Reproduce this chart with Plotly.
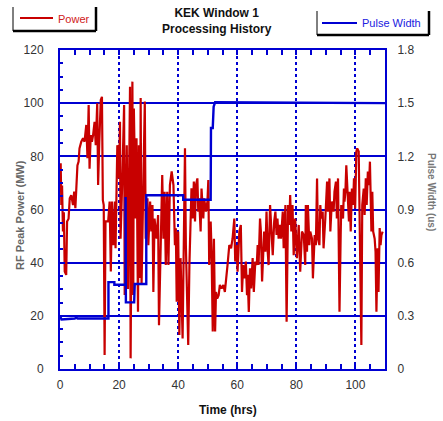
import plotly.graph_objects as go

# ---- data ----
power_time = [0.0, 0.23, 0.45, 0.7, 1.0, 1.3, 1.6, 2.1, 2.4, 2.9, 3.3, 3.8, 4.4, 4.8, 5.2, 5.6, 5.9, 6.3, 6.6, 7.2,
              7.8, 8.3, 8.9, 9.3, 9.7, 10.0, 10.4, 10.8, 11.2, 11.7, 12.1, 12.6, 12.9, 13.3, 13.8, 14.2, 14.5, 14.8, 15.1, 15.4,
              15.9, 16.3, 16.8, 17.2, 17.6, 18.1, 18.6, 18.8, 19.4, 19.96, 20.3, 20.5, 21.1, 21.7, 21.9, 22.6,
              23.0, 23.4, 23.7, 23.9, 24.5, 24.8, 25.0, 25.6, 25.9, 26.4, 26.7, 27.1, 27.3, 27.6, 28.2, 28.7,
              29.0, 29.6, 29.9, 30.5, 30.9, 31.3, 31.6, 32.0, 32.7, 33.2, 33.5, 34.1, 34.6, 35.0, 35.4, 35.8,
              36.3, 36.7, 37.2, 37.8, 38.4, 38.9, 39.2, 39.5, 40.0, 40.4, 40.8, 41.5, 42.0, 42.3, 42.6, 43.1,
              43.4, 43.8, 44.2, 44.5, 44.9, 45.3, 45.7, 46.0, 46.5, 46.8, 47.1, 47.6, 47.9, 48.5, 48.8, 49.4,
              49.9, 50.2, 50.5, 51.0, 51.3, 51.7, 52.1, 52.5, 52.8, 53.2, 53.7, 54.1, 54.7, 55.3, 55.8, 56.4,
              56.7, 57.3, 57.9, 58.4, 59.0, 59.3, 59.8, 60.1, 60.7, 61.2, 61.6, 62.0, 62.4, 62.9, 63.3, 63.5,
              63.9, 64.3, 64.7, 65.2, 65.6, 66.1, 66.6, 66.9, 67.2, 67.7, 68.0, 68.4, 68.8, 69.1, 69.5, 69.9,
              70.3, 70.6, 71.1, 71.4, 72.0, 72.5, 72.9, 73.3, 73.6, 74.0, 74.4, 74.8, 75.4, 75.7, 76.3, 76.7,
              77.2, 77.6, 77.9, 78.3, 78.7, 79.1, 79.6, 80.2, 80.8, 81.3, 81.9, 82.5, 83.0, 83.2, 83.6, 83.9,
              84.4, 84.7, 85.3, 85.6, 86.2, 86.6, 87.0, 87.3, 87.8, 88.1, 88.4, 88.9, 89.2, 89.8, 90.4, 90.7,
              91.2, 91.5, 92.0, 92.6, 92.9, 93.4, 93.7, 94.1, 94.6, 95.0, 95.2, 95.8, 96.1, 96.3, 96.6, 96.9,
              97.5, 97.8, 98.0, 98.4, 98.8, 99.2, 99.5, 99.9, 100.3, 100.6, 101.1, 101.4, 101.8, 102.0, 102.3, 102.8,
              103.1, 103.5, 103.8, 104.2, 104.6, 104.9, 105.4, 105.7, 106.0, 106.5, 106.8, 107.1, 107.5, 107.8,
              108.2, 108.5, 108.8, 109.2]
power_mw = [70.5, 77.4, 61.7, 69.0, 51.7, 59.0, 36.7, 35.4, 55.5, 56.5, 64.2, 65.4, 61.7, 66.7, 60.5, 70.5, 76.6, 78.0, 83.0, 85.5,
            86.8, 85.5, 91.8, 79.3, 99.3, 75.3, 88.0, 85.5, 88.0, 93.0, 84.2, 100.0, 69.2, 85.5, 101.2, 102.4, 63.5, 61.7, 5.3, 55.5,
            55.5, 55.5, 63.0, 36.7, 63.0, 46.6, 63.0, 45.4, 84.2, 71.7, 93.0, 49.0, 71.7, 99.3, 27.8, 84.2,
            30.1, 86.8, 106.2, 4.0, 108.1, 27.8, 98.0, 56.6, 86.8, 21.5, 84.2, 34.2, 101.9, 31.6, 71.7, 100.6,
            49.0, 64.2, 46.6, 63.0, 51.7, 61.7, 29.0, 56.6, 49.0, 57.9, 16.5, 51.7, 73.0, 49.0, 66.7, 39.1,
            66.7, 39.1, 69.2, 74.3, 69.2, 46.6, 52.9, 25.3, 51.7, 12.8, 41.7, 11.5, 64.2, 83.0, 46.6, 15.4,
            9.0, 39.1, 59.2, 68.0, 56.6, 70.5, 55.5, 69.2, 71.7, 59.2, 64.2, 51.7, 67.9, 56.6, 64.2, 59.2,
            63.0, 71.1, 39.1, 55.5, 44.1, 14.1, 49.0, 14.1, 29.0, 26.5, 27.8, 31.6, 30.3, 31.6, 29.0, 37.9,
            39.1, 46.6, 45.4, 49.0, 56.6, 40.4, 46.6, 36.6, 51.7, 54.2, 29.0, 39.1, 34.1, 40.4, 27.8, 35.4,
            21.5, 37.9, 30.3, 41.7, 29.0, 40.4, 39.1, 46.6, 39.1, 56.6, 51.7, 32.9, 46.6, 51.7, 44.1, 59.2,
            44.1, 39.1, 61.7, 55.5, 42.8, 55.5, 59.2, 50.4, 56.6, 49.0, 54.2, 49.0, 59.2, 45.4, 61.7, 17.8,
            61.7, 54.2, 65.4, 51.7, 61.7, 42.8, 56.6, 41.7, 54.2, 36.6, 51.7, 50.4, 39.1, 61.7, 44.1, 61.7,
            46.6, 51.7, 49.0, 34.1, 50.4, 46.6, 71.7, 49.0, 46.6, 61.7, 56.6, 59.2, 45.4, 56.6, 70.5, 59.2,
            71.7, 51.7, 63.0, 59.2, 66.7, 70.5, 56.6, 71.7, 21.5, 50.4, 61.7, 56.6, 67.9, 63.0, 66.7, 76.6,
            64.2, 55.5, 66.7, 51.7, 67.9, 61.7, 71.7, 60.4, 81.8, 83.0, 81.8, 59.2, 19.2, 9.0, 61.7, 67.9,
            57.9, 71.7, 61.7, 74.3, 69.2, 78.0, 51.7, 66.7, 51.7, 49.0, 44.1, 21.5, 45.4, 29.0,
            53.0, 46.6, 50.4, 51.7]

pulse_time = [0.0, 0.5, 5.0, 5.5, 6.0, 16.4, 16.4, 18.4, 18.4, 22.2, 22.2, 22.3, 25.1, 25.3, 29.2, 29.2,
              41.7, 41.7, 51.0, 51.1, 51.7, 52.0, 52.5, 110.0]
pulse_us = [0.30, 0.28, 0.285, 0.29, 0.285, 0.285, 0.49, 0.49, 0.475, 0.475, 0.97, 0.376, 0.376, 0.48, 0.48, 0.98,
            0.98, 0.955, 0.955, 1.36, 1.36, 1.48, 1.505, 1.50]

x_ticks = [0, 20, 40, 60, 80, 100]
y_ticks = [0, 20, 40, 60, 80, 100, 120]
y2_ticks = [0, 0.3, 0.6, 0.9, 1.2, 1.5, 1.8]
y2_labels = ["0", "0.3", "0.6", "0.9", "1.2", "1.5", "1.8"]

RED = "#c80000"
BLUE = "#0000d2"
FONT = "Liberation Sans, Arial, sans-serif"

fig = go.Figure()
fig.add_trace(go.Scatter(x=power_time, y=power_mw, mode="lines", name="Power",
                         line=dict(color=RED, width=2.2), yaxis="y", showlegend=False))
fig.add_trace(go.Scatter(x=pulse_time, y=pulse_us, mode="lines", name="Pulse Width",
                         line=dict(color=BLUE, width=2.4), yaxis="y2", showlegend=False))

W, H = 443, 421
L, R, T, B = 60, 58, 50, 52
pw, ph = W - L - R, H - T - B


def px_x(px):
    return (px - L) / pw


def px_y(py):
    return (H - B - py) / ph


axis_common = dict(showline=True, linecolor=BLUE, linewidth=2, ticks="inside", tickcolor=BLUE,
                   tickwidth=2, ticklen=5, zeroline=False,
                   tickfont=dict(family=FONT, size=12, color="#333333"))

fig.update_layout(
    width=W, height=H,
    margin=dict(l=L, r=R, t=T, b=B),
    paper_bgcolor="white", plot_bgcolor="white",
    xaxis=dict(range=[0, 110], tickvals=x_ticks, showgrid=True, gridcolor=BLUE, gridwidth=2,
               griddash="dot", mirror="allticks",
               minor=dict(dtick=5, ticks="inside", ticklen=3, tickcolor=BLUE, tickwidth=2, showgrid=False),
               ticklabelstandoff=4, **axis_common),
    yaxis=dict(range=[0, 120], tickvals=y_ticks, showgrid=True, gridcolor=BLUE, gridwidth=2,
               minor=dict(dtick=5, ticks="inside", ticklen=3, tickcolor=BLUE, tickwidth=2, showgrid=False),
               ticklabelstandoff=12, **axis_common),
    yaxis2=dict(range=[0, 1.8], tickvals=y2_ticks, ticktext=y2_labels, overlaying="y", side="right",
                showgrid=False, ticklabelstandoff=8, **axis_common),
    font=dict(family=FONT),
)

# titles
fig.add_annotation(x=(217 - L) / pw, y=px_y(21), xref="paper", yref="paper",
                   text="<b>KEK Window 1<br>Processing History</b>", showarrow=False,
                   font=dict(family=FONT, size=12, color="#111111"), xanchor="center", yanchor="middle")
fig.add_annotation(x=px_x(228), y=px_y(410), xref="paper", yref="paper", text="<b>Time (hrs)</b>",
                   showarrow=False, font=dict(family=FONT, size=12, color="#111111"),
                   xanchor="center", yanchor="middle")
fig.add_annotation(x=px_x(20), y=px_y(215), xref="paper", yref="paper", text="<b>RF Peak Power (MW)</b>",
                   showarrow=False, textangle=-90, font=dict(family=FONT, size=11, color="#666666"),
                   xanchor="center", yanchor="middle")
fig.add_annotation(x=px_x(432), y=px_y(192), xref="paper", yref="paper", text="<b>Pulse Width (us)</b>",
                   showarrow=False, textangle=90, font=dict(family=FONT, size=10, color="#777777"),
                   xanchor="center", yanchor="middle")

# legend boxes (drawn as layout decorations)
def legend_box(x0, x1, y0, y1):
    shp = []
    shp.append(dict(type="line", xref="paper", yref="paper", x0=px_x(x0), x1=px_x(x0), y0=px_y(y0), y1=px_y(y1),
                    line=dict(color="black", width=1)))
    shp.append(dict(type="line", xref="paper", yref="paper", x0=px_x(x0), x1=px_x(x1), y0=px_y(y1), y1=px_y(y1),
                    line=dict(color="black", width=2.5)))
    shp.append(dict(type="line", xref="paper", yref="paper", x0=px_x(x1), x1=px_x(x1), y0=px_y(y0), y1=px_y(y1),
                    line=dict(color="black", width=2.5)))
    return shp


shapes = []
shapes += legend_box(13, 96, 7, 31)
shapes += legend_box(317, 429, 11, 35)
shapes.append(dict(type="line", xref="paper", yref="paper", x0=px_x(20), x1=px_x(53), y0=px_y(18), y1=px_y(18),
                   line=dict(color=RED, width=2)))
shapes.append(dict(type="line", xref="paper", yref="paper", x0=px_x(322), x1=px_x(357), y0=px_y(23), y1=px_y(23),
                   line=dict(color=BLUE, width=2)))
fig.update_layout(shapes=shapes)

fig.add_annotation(x=px_x(56), y=px_y(19), xref="paper", yref="paper", text="Power", showarrow=False,
                   font=dict(family=FONT, size=11, color="#d02020"), xanchor="left", yanchor="middle")
fig.add_annotation(x=px_x(360), y=px_y(23), xref="paper", yref="paper", text="Pulse Width", showarrow=False,
                   font=dict(family=FONT, size=11, color="#2020e0"), xanchor="left", yanchor="middle")

fig.write_html("out.html")
